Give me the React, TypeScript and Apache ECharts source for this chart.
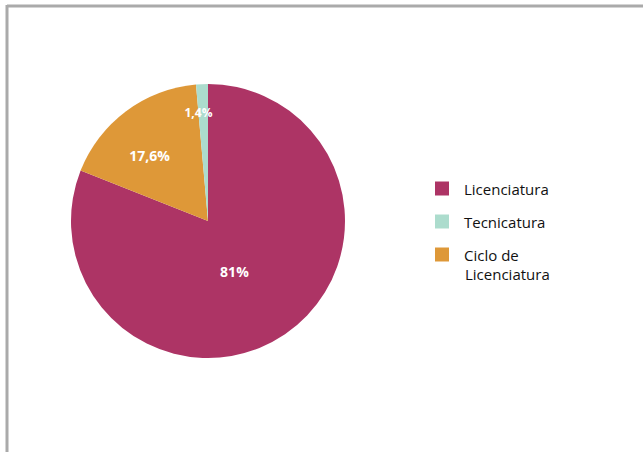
import React, { useEffect, useRef } from "react";
import * as echarts from "echarts";

const categories = ["Licenciatura", "Ciclo de\nLicenciatura", "Tecnicatura"];
const values = [81, 17.6, 1.4];
const colors = ["#ad3465", "#de9838", "#acdccd"];
const legendOrder = ["Licenciatura", "Tecnicatura", "Ciclo de\nLicenciatura"];
const labelRadiusFrac = [0.415, 0.64, 0.795];
const labelAngleShiftDeg = [6.5, -5, -2.5];
const labelFontSizes = [14, 14, 12];

const CX = 208;
const CY = 221;
const R = 137;
const FONT = "'Open Sans'";

export default function App() {
  const ref = useRef<HTMLDivElement>(null);
  useEffect(() => {
    document.body.style.margin = "0";
    const chart = echarts.init(ref.current!, null, { renderer: "svg" });
    chart.setOption({
      animation: false,
      backgroundColor: "#ffffff",
      textStyle: { fontFamily: FONT },
      graphic: [
        { type: "line", shape: { x1: 7, y1: 6, x2: 643, y2: 6 }, style: { stroke: "#aaaaaa", lineWidth: 3 } },
        { type: "line", shape: { x1: 7, y1: 5, x2: 7, y2: 452 }, style: { stroke: "#aaaaaa", lineWidth: 3 } },
        {
          type: "text",
          left: 465,
          top: 266,
          style: { text: "Licenciatura", fontFamily: FONT, fontSize: 15, fill: "#111111" },
        },
      ],
      legend: {
        orient: "vertical",
        left: 435,
        top: 180,
        padding: 0,
        icon: "rect",
        itemWidth: 14,
        itemHeight: 14,
        itemGap: 16,
        data: legendOrder,
        formatter: (name: string) => name.split("\n")[0],
        textStyle: { fontFamily: FONT, fontSize: 15, color: "#111111", lineHeight: 17, padding: [0, 0, 0, 10] },
      },
      series: [
        {
          type: "pie",
          center: [CX, CY],
          radius: [0, R],
          startAngle: 90,
          clockwise: true,
          label: {
            show: true,
            position: "inside",
            color: "#ffffff",
            fontWeight: "bold",
            fontFamily: FONT,
            fontSize: 14,
            formatter: (p: any) => String(p.value).replace(".", ",") + "%",
          },
          labelLine: { show: false },
          itemStyle: { borderWidth: 0 },
          emphasis: { disabled: true },
          labelLayout: (params: any) => {
            const rect = params.labelRect;
            const lx = rect.x + rect.width / 2;
            const ly = rect.y + rect.height / 2;
            const ang = Math.atan2(ly - CY, lx - CX) + (labelAngleShiftDeg[params.dataIndex] * Math.PI) / 180;
            const rr = labelRadiusFrac[params.dataIndex] * R;
            return { x: CX + rr * Math.cos(ang), y: CY + rr * Math.sin(ang) };
          },
          data: categories.map((name, i) => ({
            name,
            value: values[i],
            itemStyle: { color: colors[i] },
            label: { fontSize: labelFontSizes[i] },
          })),
        },
      ],
    });
    return () => chart.dispose();
  }, []);
  return <div ref={ref} style={{ width: 643, height: 452, position: "absolute", left: 0, top: 0 }} />;
}
